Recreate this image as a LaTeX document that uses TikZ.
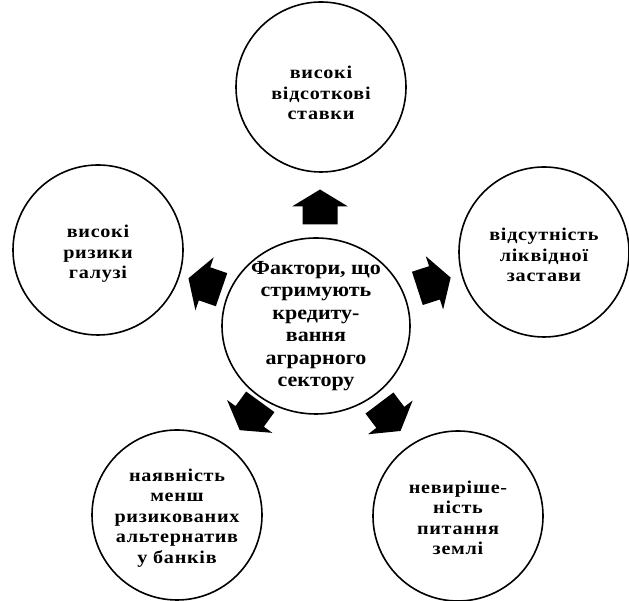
\documentclass[tikz,border=0pt]{standalone}
\usepackage{fontspec}
\setmainfont{Liberation Serif}
\newfontfamily\outerfont[FakeStretch=1.12,LetterSpace=4,UprightFont=*,BoldFont=*]{Liberation Serif Bold}
\newfontfamily\hubfont[FakeStretch=1.1,UprightFont=*,BoldFont=*]{Liberation Serif Bold}
\usetikzlibrary{shapes.geometric}
\newcommand\blockarrow[3]{%
  \fill[blockfill, shift={(#1,#2)}, rotate=#3]
    (17.5,0) -- (0.5,28) -- (0.5,17.5) -- (-17.5,17.5) --
    (-17.5,-17.5) -- (0.5,-17.5) -- (0.5,-28) -- cycle;}
\begin{document}
\begin{tikzpicture}[x=1pt,y=1pt,
  bub/.style={circle, draw, line width=1.6pt, minimum size=170pt, inner sep=0pt},
  hub/.style={ellipse, draw, line width=1.6pt, minimum width=188pt, minimum height=176pt, inner sep=0pt},
  lbl/.style={align=center, font=\outerfont\fontsize{18}{20.5}\selectfont, inner sep=0pt},
  hublbl/.style={align=center, font=\hubfont\fontsize{20}{22.5}\selectfont, inner sep=0pt},
  blockfill/.style={fill=black}]
\useasboundingbox (0,0) rectangle (629,601);
% hub
\node[hub] (c) at (316,275) {};
\node[hublbl] (ctext) at (316,275) {Фактори, що\\стримують\\кредиту-\\вання\\аграрного\\сектору};
% outer circles
\node[bub] (t) at (321,514) {};
\node[lbl] (ttext) at (321,508) {високі\\відсоткові\\ставки};
\node[bub] (r) at (544,349) {};
\node[lbl] (rtext) at (544,346) {відсутність\\ліквідної\\застави};
\node[bub] (l) at (98,351) {};
\node[lbl] (ltext) at (98,347) {високі\\ризики\\галузі};
\node[bub] (bl) at (177,86) {};
\node[lbl] (bltext) at (177,83) {наявність\\менш\\ризикованих\\альтернатив\\у банків};
\node[bub] (br) at (458,85) {};
\node[lbl] (brtext) at (458,83) {невиріше-\\ність\\питання\\землі};
% block arrows
\blockarrow{320}{394}{90}
\blockarrow{434}{318}{18}
\blockarrow{205}{317}{161}
\blockarrow{250}{185}{-126}
\blockarrow{390}{184}{-53}
\end{tikzpicture}
\end{document}
